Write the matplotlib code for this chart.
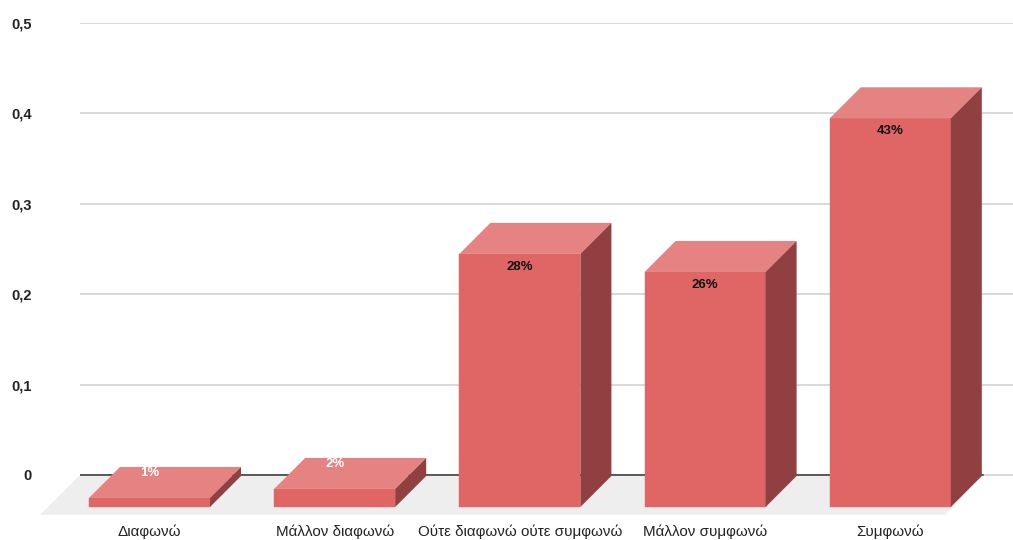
import matplotlib
matplotlib.use("Agg")
import matplotlib.pyplot as plt
from matplotlib.patches import Polygon
from matplotlib.ticker import FixedLocator, FixedFormatter

categories = ["Διαφωνώ", "Μάλλον διαφωνώ", "Ούτε διαφωνώ ούτε συμφωνώ", "Μάλλον συμφωνώ", "Συμφωνώ"]
values = [0.01, 0.02, 0.28, 0.26, 0.43]
bar_labels = ["1%", "2%", "28%", "26%", "43%"]
y_ticks = [0, 0.1, 0.2, 0.3, 0.4, 0.5]
y_tick_labels = ["0", "0,1", "0,2", "0,3", "0,4", "0,5"]

W, H = 1013, 540
plt.rcParams["font.family"] = ["Liberation Sans", "DejaVu Sans"]
fig = plt.figure(figsize=(W / 100, H / 100), dpi=100)

# Axes span: x 80..1013 px, y 23 (0.5) .. 515 px
L, R, T, B = 80, 1013, 23, 515
ax = fig.add_axes([L / W, 1 - B / H, (R - L) / W, (B - T) / H])
PX_Y = 904.0            # pixels per unit of value
PX_X = 185.2            # pixels per category
X0 = 149.5              # pixel of first category centre
ax.set_xlim((L - X0) / PX_X, (R - X0) / PX_X)
ax.set_ylim(-(B - 475) / PX_Y, 0.5)
for s in ax.spines.values():
    s.set_visible(False)

dx = 31 / PX_X          # depth in x
dy = 31 / PX_Y          # depth in y
front = -32 / PX_Y      # front-face baseline
bw = 121 / PX_X         # bar width

# Floor
ax.add_patch(Polygon([((80 - X0) / PX_X, 0), ((983 - X0) / PX_X, 0),
                      ((945 - X0) / PX_X, -40 / PX_Y), ((40 - X0) / PX_X, -40 / PX_Y)],
                     closed=True, fc="#eeeeee", ec="none", clip_on=False, zorder=1))
ax.yaxis.grid(True, color="#d2d2d2", lw=1.2, zorder=0)
ax.set_axisbelow(True)
ax.plot([(80 - X0) / PX_X, (983 - X0) / PX_X], [0, 0], color="#333333", lw=1.1, zorder=1.5)

for i, v in enumerate(values):
    x0, x1 = i - bw / 2, i + bw / 2
    top = front + v
    ax.add_patch(Polygon([(x0, front), (x1, front), (x1, top), (x0, top)],
                         fc="#e06666", ec="#e06666", lw=0.3, zorder=3))
    ax.add_patch(Polygon([(x0, top), (x1, top), (x1 + dx, top + dy), (x0 + dx, top + dy)],
                         fc="#e58383", ec="none", zorder=3))
    ax.add_patch(Polygon([(x1, front), (x1 + dx, front + dy), (x1 + dx, top + dy), (x1, top)],
                         fc="#904040", ec="none", zorder=3.1))
    if v < 0.05:
        ax.annotate(bar_labels[i], (i, top), xytext=(0, 18), textcoords="offset points",
                    ha="center", va="center", fontsize=9.5, fontweight="bold", color="white", zorder=4)
    else:
        ax.annotate(bar_labels[i], (i, top), xytext=(0, -9.5), textcoords="offset points",
                    ha="center", va="center", fontsize=9.5, fontweight="bold", color="#111111", zorder=4)

ax.yaxis.set_major_locator(FixedLocator(y_ticks))
ax.yaxis.set_major_formatter(FixedFormatter(y_tick_labels))
ax.xaxis.set_major_locator(FixedLocator(list(range(len(categories)))))
ax.xaxis.set_major_formatter(FixedFormatter(categories))
ax.tick_params(axis="y", length=0, pad=34.5, labelsize=10.5)
ax.tick_params(axis="x", length=0, pad=6.5, labelsize=10.9)
for lab in ax.get_yticklabels():
    lab.set_fontweight("bold")
    lab.set_color("#222222")
for lab in ax.get_xticklabels():
    lab.set_color("#222222")

fig.savefig("out.png", dpi=100, facecolor="white")
